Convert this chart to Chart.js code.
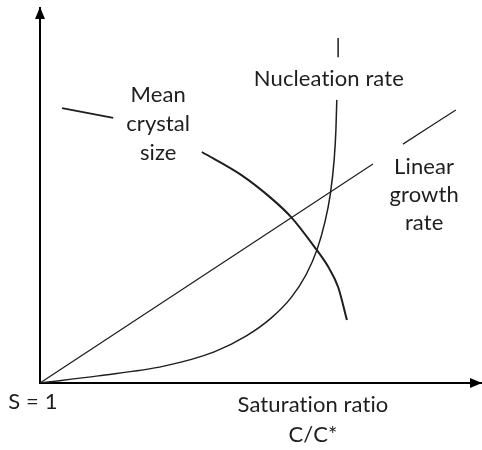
<!DOCTYPE html>
<html lang="en">
<head>
    <meta charset="UTF-8">
    <title>Saturation ratio vs. nucleation and growth</title>
    <script src="https://cdn.jsdelivr.net/npm/chart.js@4.4.2/dist/chart.umd.min.js"></script>
    <style>
        html, body { margin: 0; padding: 0; background: #fff; }
        #wrap { width: 482px; height: 450px; }
    </style>
</head>
<body>
    <div id="wrap"><canvas id="satChart" width="482" height="450"></canvas></div>

    <script>
        // --- Curves (x, y in arbitrary units 0..10, null = gap for a label) ---
        const growthX = [0, 7.55, 7.9, 8.23, 9.43];
        const growthY = [0, 5.84, null, 6.37, 7.28];

        const nucleationX = [0, 1.32, 2.81, 3.95, 4.67, 5.24, 5.69, 6.03, 6.28, 6.46, 6.58, 6.67, 6.71, 6.73, 6.75, 6.76, 6.76];
        const nucleationY = [0, 0.19, 0.45, 0.83, 1.25, 1.73, 2.27, 2.88, 3.55, 4.29, 5.01, 5.95, 6.75, 7.55, null, 8.69, 9.20];

        const crystalX = [0.50, 1.66, 2.6, 3.67, 4.56, 5.24, 5.69, 6.21, 6.55, 6.76, 6.96];
        const crystalY = [7.33, 7.07, null, 6.16, 5.55, 4.93, 4.43, 3.65, 3.07, 2.56, 1.68];

        // --- Text ---
        const crystalLabel = ['Mean', 'crystal', 'size'];
        const nucleationLabel = ['Nucleation rate'];
        const growthLabel = ['Linear', 'growth', 'rate'];
        const originLabel = 'S = 1';
        const xAxisLabel = ['Saturation ratio', 'C/C*'];

        const ink = '#1e1e1e';
        const fontFamily = 'Lato, "Open Sans", sans-serif';

        function toPoints(xs, ys) {
            return xs.map((x, i) => ({ x: x, y: ys[i] }));
        }

        function lineSet(label, xs, ys, width) {
            return {
                label: label,
                data: toPoints(xs, ys),
                showLine: true,
                spanGaps: false,
                borderColor: ink,
                borderWidth: width,
                pointRadius: 0,
                cubicInterpolationMode: 'monotone',
                fill: false
            };
        }

        // text placement (in data units) and axis arrowheads
        const sketchText = {
            id: 'sketchText',
            afterDraw(chart) {
                const { ctx, chartArea, scales } = chart;
                const px = v => scales.x.getPixelForValue(v);
                const py = v => scales.y.getPixelForValue(v);

                ctx.save();
                ctx.fillStyle = '#000';
                // y arrow
                ctx.beginPath();
                ctx.moveTo(chartArea.left, chartArea.top - 1);
                ctx.lineTo(chartArea.left - 5, chartArea.top + 11);
                ctx.lineTo(chartArea.left + 5, chartArea.top + 11);
                ctx.closePath();
                ctx.fill();
                // x arrow
                ctx.beginPath();
                ctx.moveTo(chartArea.right + 1, chartArea.bottom);
                ctx.lineTo(chartArea.right - 11, chartArea.bottom - 5);
                ctx.lineTo(chartArea.right - 11, chartArea.bottom + 5);
                ctx.closePath();
                ctx.fill();

                ctx.fillStyle = ink;
                ctx.font = '22px ' + fontFamily;
                ctx.textAlign = 'center';
                ctx.textBaseline = 'middle';
                // small spacing also stops the "ti" ligature
                if ('letterSpacing' in ctx) ctx.letterSpacing = '0.1px';

                const block = (lines, x, y0, step) => {
                    lines.forEach((t, i) => ctx.fillText(t, px(x), py(y0) + i * step));
                };
                block(crystalLabel, 2.68, 7.68, 29);
                block(nucleationLabel, 6.55, 8.11, 0);
                block(growthLabel, 8.71, 5.76, 28);
                block([originLabel], -0.16, -0.51, 0);
                block(xAxisLabel, 6.19, -0.59, 30);
                ctx.restore();
            }
        };

        const ctx = document.getElementById('satChart').getContext('2d');
        new Chart(ctx, {
            type: 'scatter',
            data: {
                datasets: [
                    lineSet('Linear growth rate', growthX, growthY, 1.2),
                    lineSet('Nucleation rate', nucleationX, nucleationY, 1.5),
                    lineSet('Mean crystal size', crystalX, crystalY, 2)
                ]
            },
            options: {
                responsive: false,
                animation: false,
                layout: { padding: { left: 32, top: 8, right: 1, bottom: 59 } },
                plugins: {
                    legend: { display: false },
                    tooltip: { enabled: false }
                },
                scales: {
                    x: {
                        type: 'linear',
                        min: 0,
                        max: 10,
                        ticks: { display: false },
                        grid: { display: false },
                        border: { display: true, color: '#000', width: 2 }
                    },
                    y: {
                        type: 'linear',
                        min: 0,
                        max: 10,
                        ticks: { display: false },
                        grid: { display: false },
                        border: { display: true, color: '#000', width: 2 }
                    }
                }
            },
            plugins: [sketchText]
        });
    </script>
</body>
</html>
